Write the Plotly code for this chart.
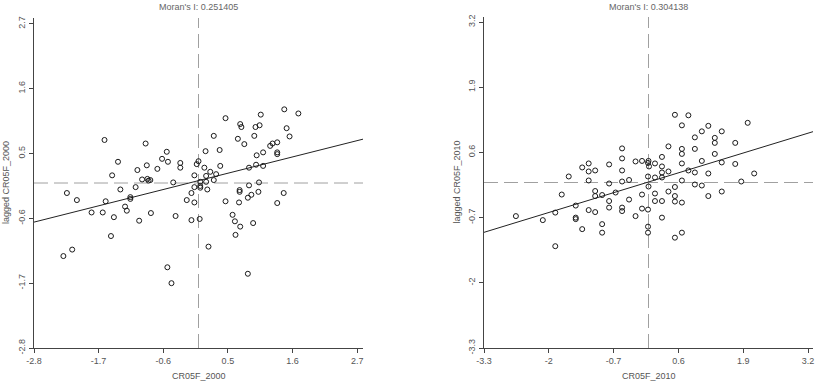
import plotly.graph_objects as go

# ---------------- data ----------------
titles = ["Moran's I: 0.251405", "Moran's I: 0.304138"]
moran_i = [0.251405, 0.304138]
fit_intercept = [0.04, 0.01]
x_labels = ["CR05F_2000", "CR05F_2010"]
y_labels = ["lagged CR05F_2000", "lagged CR05F_2010"]
ticks_2000 = [-2.8, -1.7, -0.6, 0.5, 1.6, 2.7]
ticks_2010 = [-3.3, -2.0, -0.7, 0.6, 1.9, 3.2]
range_2000 = [-2.8, 2.8]
range_2010 = [-3.3, 3.3]

cr_2000 = [-1.60, -0.90, -0.54, -1.37, -0.62, -0.52, -0.31, -0.31, -0.03, -0.88,
           -0.70, -1.04, -1.47, -0.07, -0.96, -0.87, -0.85, -0.82, -0.43, -1.33,
           -1.07, -2.24, -2.07, -1.58, -1.16, -1.16, -1.25, -1.22, -1.82, -1.63,
           -1.44, -0.81, -1.01, -0.39, -0.20, -0.12, -0.07, -0.07, -0.12, -1.49,
           -2.15, -2.30, -0.53, -0.46,
           1.46, 1.70, 1.06, 0.46, 0.71, 0.73, 0.97, 1.04, 1.50, 0.26,
           0.95, 1.55, 0.67, 0.78, 1.34, 1.26, 1.22, 0.12, 0.36, 1.10,
           1.34, 1.34, 0.99, 0.00, 0.10, 0.37, 0.98, 1.10, 0.86, 0.20,
           0.13, 0.30, 0.03, 0.03, 0.03, 0.13, 0.26, 0.15, 0.86, 1.03,
           0.70, 0.70, 1.02, 0.90, 0.84, 1.45, 0.46, 0.69, 1.34, 0.58,
           0.62, 0.71, 0.93, 0.63, 0.02, 0.17, 0.84]
lag_2000 = [0.73, 0.67, 0.53, 0.36, 0.41, 0.36, 0.34, 0.26, 0.32, 0.30,
            0.24, 0.22, 0.13, 0.13, 0.06, 0.07, 0.04, 0.05, 0.01, -0.11,
            -0.07, -0.17, -0.29, -0.31, -0.24, -0.27, -0.40, -0.47, -0.50, -0.50,
            -0.58, -0.51, -0.64, -0.56, -0.29, -0.17, -0.07, -0.33, -0.63, -0.90,
            -1.13, -1.24, -1.43, -1.70,
            1.25, 1.18, 1.16, 1.10, 1.00, 0.95, 0.95, 0.98, 0.93, 0.80,
            0.80, 0.79, 0.75, 0.66, 0.69, 0.67, 0.63, 0.54, 0.56, 0.52,
            0.52, 0.49, 0.47, 0.37, 0.26, 0.29, 0.31, 0.29, 0.26, 0.19,
            0.12, 0.15, 0.02, -0.05, -0.08, 0.02, 0.05, -0.11, -0.04, 0.01,
            -0.12, -0.15, -0.15, -0.20, -0.25, -0.17, -0.31, -0.33, -0.34, -0.54,
            -0.65, -0.74, -0.68, -0.88, -0.61, -1.08, -1.54]

cr_2010 = [-0.53, -0.53, -0.26, -0.13, -1.20, -1.33, -0.79, -1.20, -1.07, -0.53,
           -1.60, -1.20, -0.79, -0.53, -0.39, -0.01, -1.74, -1.07, -1.07, -0.93,
           -0.66, -0.13, -0.79, -0.39, -1.46, -0.79, -0.53, -0.53, -0.13, -0.01,
           -1.20, -1.07, -0.26, -1.87, -2.66, -2.12, -1.46, -1.46, -1.33, -0.93,
           -0.93, -0.01, -0.01, -1.87,
           0.53, 0.80, 0.67, 1.99, 1.20, 1.07, 1.47, 0.93, 1.33, 1.33,
           1.74, 0.40, 0.67, 0.93, 0.67, 1.33, 0.27, 0.00, -0.01, 0.01,
           0.13, 0.27, 0.67, 1.07, 1.47, 1.74, 0.27, 0.40, 0.80, 0.93,
           1.20, 2.12, 0.13, 0.27, 0.67, 0.93, 1.07, 1.86, 0.00, 0.40,
           0.53, 0.13, 0.53, 1.20, 1.47, 0.13, 0.27, 0.53, 0.67, 0.27,
           0.53, 0.67]
lag_2010 = [0.68, 0.48, 0.42, 0.43, 0.38, 0.30, 0.36, 0.22, 0.24, 0.24,
            0.12, 0.04, -0.02, 0.02, 0.05, 0.12, -0.24, -0.17, -0.27, -0.25,
            -0.20, -0.24, -0.37, -0.34, -0.46, -0.50, -0.50, -0.57, -0.52, -0.54,
            -0.55, -0.59, -0.67, -0.60, -0.67, -0.75, -0.70, -0.73, -0.93, -0.83,
            -1.00, -0.88, -1.00, -1.27,
            1.35, 1.34, 1.14, 1.19, 1.13, 1.02, 1.02, 0.90, 0.89, 0.79,
            0.79, 0.72, 0.67, 0.67, 0.57, 0.57, 0.51, 0.43, 0.39, 0.32,
            0.38, 0.32, 0.38, 0.43, 0.40, 0.37, 0.20, 0.22, 0.24, 0.20,
            0.18, 0.18, 0.10, 0.10, 0.04, -0.04, -0.06, 0.02, -0.08, -0.18,
            -0.09, -0.22, -0.27, -0.27, -0.18, -0.37, -0.37, -0.38, -0.40, -0.70,
            -1.10, -1.00]

# ---------------- figure ----------------
FONT = "Liberation Sans, Arial, sans-serif"
TXT = "#555555"
AX = "#444444"

panels = [
    dict(x=cr_2000, y=lag_2000, ticks=ticks_2000, rng=range_2000,
         xdom=[34 / 816, 363 / 816], ydom=[35 / 383, 365 / 383], ax="", k=0),
    dict(x=cr_2010, y=lag_2010, ticks=ticks_2010, rng=range_2010,
         xdom=[484 / 816, 813 / 816], ydom=[35 / 383, 366 / 383], ax="2", k=1),
]

fig = go.Figure()
layout = dict(
    width=816, height=383, margin=dict(l=0, r=0, t=0, b=0, autoexpand=False),
    paper_bgcolor="white", plot_bgcolor="white", showlegend=False,
    font=dict(family=FONT, size=9, color=TXT),
)
annotations = []
for p in panels:
    xa = "x" + p["ax"]
    ya = "y" + p["ax"]
    k = p["k"]
    r0, r1 = p["rng"]
    # reference dashed lines at zero
    fig.add_trace(go.Scatter(x=[0, 0], y=[r0, r1], mode="lines", xaxis=xa, yaxis=ya,
                             line=dict(color="#a0a0a0", width=1, dash="14px,6px"),
                             hoverinfo="skip", cliponaxis=False))
    fig.add_trace(go.Scatter(x=[r0, r1], y=[0, 0], mode="lines", xaxis=xa, yaxis=ya,
                             line=dict(color="#a0a0a0", width=1, dash="14px,6px"),
                             hoverinfo="skip", cliponaxis=False))
    # regression line
    fig.add_trace(go.Scatter(x=[r0, r1],
                             y=[fit_intercept[k] + moran_i[k] * r0, fit_intercept[k] + moran_i[k] * r1],
                             mode="lines", xaxis=xa, yaxis=ya,
                             line=dict(color="#222222", width=1), hoverinfo="skip"))
    # points
    fig.add_trace(go.Scatter(x=p["x"], y=p["y"], mode="markers", xaxis=xa, yaxis=ya,
                             marker=dict(symbol="circle-open", size=5,
                                         color="#1a1a1a", line=dict(width=1, color="#1a1a1a"))))
    axis_common = dict(range=p["rng"], tickvals=p["ticks"],
                       ticktext=[("%g" % v) for v in p["ticks"]], automargin=False,
                       showgrid=False, zeroline=False, showline=True, linecolor=AX, linewidth=1,
                       ticks="outside", ticklen=4, tickcolor=AX, tickwidth=1,
                       tickfont=dict(family=FONT, size=9, color=TXT), fixedrange=True)
    layout["xaxis" + p["ax"]] = dict(domain=p["xdom"], anchor=ya, **axis_common)
    layout["yaxis" + p["ax"]] = dict(domain=p["ydom"], anchor=xa, tickangle=-90, **axis_common)
    xc = (p["xdom"][0] + p["xdom"][1]) / 2
    yc = (p["ydom"][0] + p["ydom"][1]) / 2
    annotations.append(dict(text=titles[k], x=xc, y=1 - 7 / 383, xref="paper", yref="paper",
                            xanchor="center", yanchor="middle", showarrow=False,
                            font=dict(family=FONT, size=9, color="#666666")))
    annotations.append(dict(text=x_labels[k], x=xc, y=1 - 376 / 383, xref="paper", yref="paper",
                            xanchor="center", yanchor="middle", showarrow=False,
                            font=dict(family=FONT, size=9, color=TXT)))
    annotations.append(dict(text=y_labels[k], x=(p["xdom"][0] * 816 - 28) / 816, y=yc,
                            xref="paper", yref="paper", textangle=-90,
                            xanchor="center", yanchor="middle", showarrow=False,
                            font=dict(family=FONT, size=9, color=TXT)))

layout["annotations"] = annotations
fig.update_layout(**layout)
fig.write_html("out.html", config={"displayModeBar": False, "staticPlot": True},
               post_script="document.body.style.margin='0px';document.body.style.overflow='hidden';")
